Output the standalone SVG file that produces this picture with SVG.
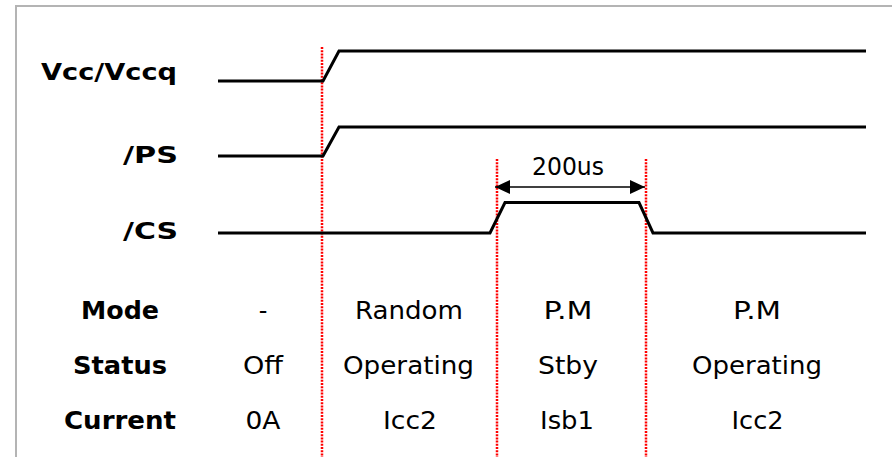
<svg xmlns="http://www.w3.org/2000/svg" width="892" height="457" viewBox="0 0 892 457">
<style>
.sig{fill:none;stroke:#000;stroke-width:3;stroke-linejoin:miter}
.mark{fill:none;stroke:#ff0000;stroke-width:2.5;stroke-dasharray:2 1.2}
.lbl{font-family:"DejaVu Sans","Liberation Sans",sans-serif;font-weight:bold;font-size:23px;fill:#000;text-anchor:end}
.hd{font-family:"DejaVu Sans","Liberation Sans",sans-serif;font-weight:bold;font-size:24px;fill:#000;text-anchor:middle}
.val{font-family:"DejaVu Sans","Liberation Sans",sans-serif;font-size:24px;fill:#000;text-anchor:middle}
</style>
<defs>
<marker id="ah" viewBox="0 0 15 14" refX="15" refY="7" markerWidth="15" markerHeight="14" markerUnits="userSpaceOnUse" orient="auto-start-reverse">
<path d="M0,0 L15,7 L0,14 Z" fill="#000"/>
</marker>
</defs>
<rect width="892" height="457" fill="#fff"/>
<path d="M16,457 V6 H892" fill="none" stroke="#b4b4b4" stroke-width="2"/>

<g id="markers">
<line class="mark" x1="322" y1="47" x2="322" y2="457"/>
<line class="mark" x1="497" y1="159" x2="497" y2="457"/>
<line class="mark" x1="646" y1="159" x2="646" y2="457"/>
</g>

<g id="signal-vcc">
<text class="lbl" x="177" y="80" textLength="136" lengthAdjust="spacingAndGlyphs">Vcc/Vccq</text>
<polyline class="sig" points="218,81 323,81 339,51 866,51"/>
</g>
<g id="signal-ps">
<text class="lbl" x="178" y="163" textLength="55" lengthAdjust="spacingAndGlyphs">/PS</text>
<polyline class="sig" points="218,156 323,156 339,127 866,127"/>
</g>
<g id="signal-cs">
<text class="lbl" x="178" y="239" textLength="55" lengthAdjust="spacingAndGlyphs">/CS</text>
<polyline class="sig" points="218,233 490,233 505,202.5 639,202.5 653,233 866,233"/>
</g>

<g id="connectors">
<line x1="495" y1="187" x2="645" y2="187" stroke="#000" stroke-width="1.3" marker-start="url(#ah)" marker-end="url(#ah)"/>
<text class="val" x="568" y="175" textLength="72" lengthAdjust="spacingAndGlyphs">200us</text>
</g>

<g id="row-mode">
<text class="hd" x="120" y="319" textLength="78" lengthAdjust="spacingAndGlyphs">Mode</text>
<text class="val" x="263" y="319">-</text>
<text class="val" x="409" y="319" textLength="108" lengthAdjust="spacingAndGlyphs">Random</text>
<text class="val" x="568" y="319" textLength="49" lengthAdjust="spacingAndGlyphs">P.M</text>
<text class="val" x="757" y="319" textLength="48" lengthAdjust="spacingAndGlyphs">P.M</text>
</g>
<g id="row-status">
<text class="hd" x="120" y="374" textLength="94" lengthAdjust="spacingAndGlyphs">Status</text>
<text class="val" x="263" y="374" textLength="40" lengthAdjust="spacingAndGlyphs">Off</text>
<text class="val" x="408.5" y="374" textLength="131" lengthAdjust="spacingAndGlyphs">Operating</text>
<text class="val" x="568" y="374" textLength="60" lengthAdjust="spacingAndGlyphs">Stby</text>
<text class="val" x="757" y="374" textLength="130" lengthAdjust="spacingAndGlyphs">Operating</text>
</g>
<g id="row-current">
<text class="hd" x="120" y="429" textLength="112" lengthAdjust="spacingAndGlyphs">Current</text>
<text class="val" x="263" y="429" textLength="35" lengthAdjust="spacingAndGlyphs">0A</text>
<text class="val" x="410" y="429" textLength="54" lengthAdjust="spacingAndGlyphs">Icc2</text>
<text class="val" x="567" y="429" textLength="54" lengthAdjust="spacingAndGlyphs">Isb1</text>
<text class="val" x="757.5" y="429" textLength="52" lengthAdjust="spacingAndGlyphs">Icc2</text>
</g>
</svg>
